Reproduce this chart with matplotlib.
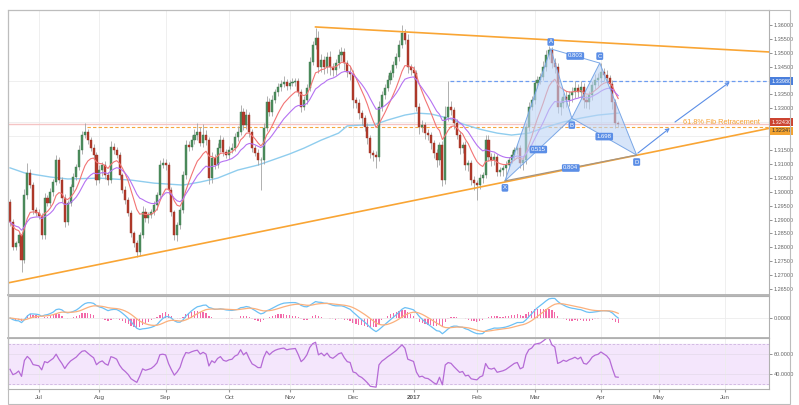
import numpy as np
import pandas as pd
import matplotlib
matplotlib.use('Agg')
import matplotlib.pyplot as plt
from matplotlib.patches import Polygon, Rectangle

plt.rcParams['font.family'] = ['Liberation Sans', 'DejaVu Sans']

# daily USD/CAD closes, 17 Jun 2016 .. 11 Apr 2017 (one per trading day)
first_open = 1.2963
closes = [
    1.2891, 1.2801, 1.2816, 1.2844, 1.2754, 1.2988, 1.3068, 1.3024, 1.2934, 1.2924,
    1.2913, 1.2844, 1.2978, 1.2960, 1.2999, 1.3035, 1.3114, 1.3042, 1.2978, 1.2891,
    1.2960, 1.3017, 1.3053, 1.3089, 1.3150, 1.3204, 1.3215, 1.3186, 1.3157, 1.3132,
    1.3042, 1.3078, 1.3096, 1.3060, 1.3042, 1.3161, 1.3150, 1.3132, 1.3060, 1.3006,
    1.2970, 1.2924, 1.2852, 1.2816, 1.2783, 1.2844, 1.2927, 1.2906, 1.2916, 1.2927,
    1.2952, 1.2988, 1.3096, 1.3103, 1.3096, 1.3006, 1.2927, 1.2844, 1.2880, 1.2934,
    1.3060, 1.3168, 1.3161, 1.3186, 1.3204, 1.3215, 1.3175, 1.3204, 1.3186, 1.3049,
    1.3121, 1.3096, 1.3157, 1.3186, 1.3143, 1.3132, 1.3150, 1.3157, 1.3197, 1.3215,
    1.3287, 1.3240, 1.3276, 1.3215, 1.3157, 1.3139, 1.3114, 1.3114, 1.3229, 1.3323,
    1.3287, 1.3330, 1.3359, 1.3377, 1.3388, 1.3395, 1.3381, 1.3391, 1.3395, 1.3399,
    1.3359, 1.3305, 1.3330, 1.3373, 1.3467, 1.3528, 1.3553, 1.3449, 1.3474, 1.3449,
    1.3485, 1.3449, 1.3438, 1.3463, 1.3492, 1.3503, 1.3463, 1.3431, 1.3424, 1.3330,
    1.3319, 1.3283, 1.3265, 1.3233, 1.3193, 1.3139, 1.3132, 1.3125, 1.3305, 1.3348,
    1.3373, 1.3402, 1.3427, 1.3456, 1.3485, 1.3528, 1.3571, 1.3546, 1.3449, 1.3438,
    1.3427, 1.3305, 1.3233, 1.3240, 1.3211, 1.3204, 1.3175, 1.3139, 1.3114, 1.3168,
    1.3042, 1.3269, 1.3305, 1.3294, 1.3247, 1.3204, 1.3157, 1.3168, 1.3096, 1.3103,
    1.3042, 1.3031, 1.3024, 1.3049, 1.3060, 1.3186, 1.3125, 1.3114, 1.3125, 1.3071,
    1.3078, 1.3085, 1.3096, 1.3114, 1.3132, 1.3150, 1.3157, 1.3103, 1.3114, 1.3233,
    1.3305, 1.3330, 1.3391, 1.3402, 1.3413, 1.3449, 1.3492, 1.3510, 1.3463, 1.3449,
    1.3305, 1.3319, 1.3341, 1.3330, 1.3348, 1.3359, 1.3373, 1.3359, 1.3377, 1.3330,
    1.3323, 1.3348, 1.3384, 1.3402, 1.3409, 1.3431, 1.3420, 1.3409, 1.3388, 1.3323,
    1.3247, 1.3243,
]
# wick lengths in pips above / below the candle body
upper_wick = [
    12, 10, 8, 14, 10, 22, 35, 15, 12, 10,
    14, 10, 18, 12, 15, 10, 20, 12, 10, 14,
    10, 12, 15, 10, 18, 14, 32, 12, 10, 16,
    12, 18, 10, 14, 12, 20, 15, 10, 12, 8,
    14, 10, 12, 8, 10, 12, 20, 14, 10, 12,
    15, 12, 20, 18, 14, 12, 10, 8, 12, 10,
    15, 18, 14, 20, 22, 32, 18, 40, 20, 12,
    22, 14, 18, 20, 12, 10, 14, 18, 15, 20,
    25, 14, 22, 10, 12, 10, 14, 12, 18, 20,
    14, 18, 12, 15, 14, 20, 10, 12, 14, 10,
    12, 10, 16, 14, 18, 15, 37, 25, 20, 14,
    18, 20, 16, 14, 22, 18, 14, 12, 20, 14,
    12, 14, 10, 12, 14, 10, 12, 14, 20, 16,
    14, 18, 12, 16, 14, 18, 29, 14, 20, 12,
    15, 12, 14, 18, 10, 14, 12, 10, 14, 12,
    14, 40, 93, 20, 12, 14, 16, 12, 14, 12,
    10, 14, 12, 16, 12, 20, 18, 14, 16, 12,
    12, 10, 14, 12, 16, 12, 14, 12, 10, 14,
    18, 14, 12, 16, 14, 20, 18, 14, 12, 20,
    14, 18, 16, 20, 14, 18, 24, 16, 20, 14,
    18, 16, 14, 20, 18, 32, 14, 18, 12, 14,
    12, 8,
]
lower_wick = [
    14, 12, 10, 12, 43, 10, 14, 12, 15, 10,
    12, 15, 14, 10, 12, 14, 10, 12, 15, 18,
    12, 10, 14, 12, 10, 14, 12, 15, 12, 14,
    18, 12, 20, 14, 16, 12, 14, 10, 15, 12,
    14, 12, 16, 14, 18, 14, 12, 16, 20, 12,
    12, 16, 14, 12, 18, 14, 16, 18, 22, 14,
    10, 14, 16, 12, 14, 18, 12, 14, 16, 20,
    18, 14, 12, 14, 16, 12, 14, 10, 12, 14,
    12, 16, 14, 18, 14, 12, 16, 108, 14, 12,
    16, 14, 12, 14, 16, 12, 14, 12, 10, 14,
    14, 18, 12, 16, 10, 12, 14, 20, 18, 24,
    20, 28, 22, 18, 16, 20, 24, 18, 22, 30,
    18, 20, 24, 16, 20, 18, 22, 40, 14, 16,
    14, 12, 16, 14, 12, 16, 10, 14, 22, 18,
    20, 16, 24, 18, 22, 16, 20, 18, 24, 16,
    22, 14, 16, 18, 20, 14, 22, 18, 16, 20,
    18, 24, 54, 14, 18, 12, 16, 22, 18, 14,
    16, 20, 46, 14, 12, 16, 14, 18, 24, 14,
    16, 12, 14, 18, 14, 12, 16, 14, 18, 20,
    22, 30, 18, 24, 20, 26, 22, 18, 24, 28,
    22, 26, 18, 14, 20, 16, 22, 18, 20, 24,
    18, 10,
]

# long moving average (needs history before the window)
slow_ma_bar = [0, 5, 14, 20, 31, 42, 50, 60, 66, 72, 79, 86, 91, 97, 102, 108,
               114, 117, 122, 126, 131, 137, 141, 146, 152, 157, 163, 169, 174,
               180, 186, 192, 198, 204, 211]
slow_ma = [1.3086, 1.3068, 1.3053, 1.3046, 1.3049, 1.3042, 1.3031, 1.3024, 1.3035,
           1.3049, 1.3078, 1.3096, 1.3114, 1.3136, 1.3157, 1.3186, 1.3211, 1.3237,
           1.3240, 1.3240, 1.3258, 1.3276, 1.3283, 1.3280, 1.3265, 1.3244, 1.3225,
           1.3211, 1.3204, 1.3211, 1.3233, 1.3251, 1.3265, 1.3276, 1.3283]

# drawing objects
upper_trend_bar = [106, 263.3]
upper_trend_px = [1.3593, 1.3503]
lower_trend_bar = [-0.7, 263.3]
lower_trend_px = [1.2672, 1.3228]
pattern_names = ['X', 'A', 'B', 'C', 'D']
pattern_bar = [171.7, 187.6, 194.9, 204.6, 217.4]
pattern_px = [1.3039, 1.3514, 1.3265, 1.3463, 1.3132]
ratio_labels = ['0.515', '0.803', '1.698', '0.804']
arrow_bar = [(217.8, 228.9), (230.7, 249.7)]
arrow_px = [(1.3139, 1.3229), (1.3251, 1.3395)]
last_price = 1.32430
fib_level = 1.32347
fib_start_bar = 26.7
high_level = 1.33980
high_start_bar = 152.6

price_ticks = [1.265, 1.270, 1.275, 1.280, 1.285, 1.290, 1.295, 1.300, 1.305,
               1.310, 1.315, 1.330, 1.335, 1.345, 1.350, 1.355, 1.360]
month_labels = ['Jul', 'Aug', 'Sep', 'Oct', 'Nov', 'Dec', '2017',
                'Feb', 'Mar', 'Apr', 'May', 'Jun']

# ---------------------------------------------------------------------------
dates = pd.bdate_range('2016-06-17', '2017-06-30')
dates = dates[dates != pd.Timestamp('2016-12-26')]
per = dates.to_period('M')
month_idx = np.flatnonzero(per[1:] != per[:-1]) + 1

c = np.array(closes)
o = np.r_[first_open, c[:-1]]
h = np.maximum(o, c) + np.array(upper_wick) / 1e4
l = np.minimum(o, c) - np.array(lower_wick) / 1e4
x = np.arange(len(c))
up = c >= o

s = pd.Series(c)
ema_fast = s.ewm(span=10, adjust=False).mean()
ema_mid = s.ewm(span=20, adjust=False).mean()
macd = s.ewm(span=12, adjust=False).mean() - s.ewm(span=26, adjust=False).mean()
signal = macd.ewm(span=9, adjust=False).mean()
hist = macd - signal

delta = np.diff(c, prepend=first_open)
ag, al = 0.0025, 0.0025
rsi = []
for d in delta:
    ag = (ag * 13 + max(d, 0)) / 14
    al = (al * 13 + max(-d, 0)) / 14
    rsi.append(100 - 100 / (1 + ag / al))

XL = (-0.7, 263.3)
GREEN, RED = '#4e8d5e', '#b23b2b'
GRID = '#ececec'
SPINE = '#b0b0b0'

fig = plt.figure(figsize=(7.99, 4.05), dpi=100)
ax = fig.add_axes([0.0100, 0.2716, 0.9524, 0.7037])
axm = fig.add_axes([0.0100, 0.1654, 0.9524, 0.1037], sharex=ax)
axr = fig.add_axes([0.0100, 0.0395, 0.9524, 0.1259], sharex=ax)

# histogram sits on its own scale behind the MACD lines
axh = axm.twinx()
axh.axis('off')
axm.set_zorder(axh.get_zorder() + 1)
axm.patch.set_visible(False)

for a in (ax, axm, axr):
    a.set_xlim(*XL)
    a.yaxis.tick_right()
    a.yaxis.set_label_position('right')
    a.tick_params(axis='y', labelsize=4, colors='#666666', length=2, pad=1.5,
                  width=0.5, left=False, labelleft=False, right=True, labelright=True)
    a.tick_params(axis='x', length=0, labelbottom=False)
    for sp in a.spines.values():
        sp.set_color(SPINE)
        sp.set_linewidth(0.8)
    a.set_xticks(month_idx)
    a.grid(axis='x', color=GRID, lw=0.6)
    a.set_axisbelow(True)
ax.spines['bottom'].set_linewidth(1.3)
axm.spines['bottom'].set_linewidth(1.3)

# ---- price panel
ax.set_ylim(1.26285, 1.3654)
ax.set_yticks(np.arange(1.265, 1.3601, 0.005), minor=True)
ax.grid(axis='y', which='minor', color=GRID, lw=0.6)
ax.tick_params(axis='y', which='minor', length=0)
ax.set_yticks(price_ticks)
ax.yaxis.set_major_formatter(matplotlib.ticker.FormatStrFormatter('%.5f'))

ax.axhline(last_price, color='#f5c4c4', lw=1.0, zorder=1)
ax.plot([fib_start_bar, XL[1]], [fib_level] * 2, color='#f6a53c', lw=0.8,
        ls=(0, (3, 2)), zorder=1)
ax.plot([high_start_bar, XL[1]], [high_level] * 2, color='#6d9cf0', lw=0.9,
        ls=(0, (3, 2)), zorder=1)

ax.plot(slow_ma_bar, slow_ma, color='#8fcdee', lw=1.0, zorder=2)

ax.vlines(x, l, h, color='#a3a3a3', lw=0.6, zorder=3)
body = np.maximum(np.abs(c - o), 0.00018)
ax.bar(x[up], body[up], bottom=np.minimum(o, c)[up], width=0.72, color=GREEN,
       edgecolor='#3e7a4e', lw=0.3, zorder=4)
ax.bar(x[~up], body[~up], bottom=np.minimum(o, c)[~up], width=0.72, color=RED,
       edgecolor='#9a3022', lw=0.3, zorder=4)

ax.plot(x, ema_fast, color='#f27474', lw=0.8, zorder=5)
ax.plot(x, ema_mid, color='#b572f2', lw=0.8, zorder=5)

ax.plot(upper_trend_bar, upper_trend_px, color='#f9a534', lw=1.2, zorder=6)
ax.plot(lower_trend_bar, lower_trend_px, color='#f9a534', lw=1.2, zorder=6)

# harmonic pattern
P = list(zip(pattern_bar, pattern_px))
pc = dict(fc=(0.74, 0.83, 0.96, 0.6), ec='#7aa7e6', lw=0.7, zorder=7)
ax.add_patch(Polygon([P[0], P[1], P[2]], closed=True, **pc))
ax.add_patch(Polygon([P[2], P[3], P[4]], closed=True, **pc))
ax.plot([P[1][0], P[3][0]], [P[1][1], P[3][1]], color='#7aa7e6', lw=0.7, zorder=7)
ax.plot([P[0][0], P[4][0]], [P[0][1], P[4][1]], color='#a8957f', lw=0.9, zorder=7)

box = dict(boxstyle='round,pad=0.22', fc='#5b8ee6', ec='none')
for (i, j), lab in zip([(0, 2), (1, 3), (2, 4), (0, 4)], ratio_labels):
    ax.text((P[i][0] + P[j][0]) / 2, (P[i][1] + P[j][1]) / 2, lab, fontsize=4.3,
            color='white', ha='center', va='center', bbox=box, zorder=9)
for name, (bx, py), dy in zip(pattern_names, P, [-5, 5, -5, 5, -5]):
    ax.annotate(name, (bx, py), xytext=(0, dy), textcoords='offset points',
                fontsize=4.3, color='white', ha='center', va='center', bbox=box,
                zorder=9)

for (x0, x1), (y0, y1) in zip(arrow_bar, arrow_px):
    ax.annotate('', xy=(x1, y1), xytext=(x0, y0), zorder=8,
                arrowprops=dict(arrowstyle='->', color='#5b8ee6', lw=0.8,
                                mutation_scale=6, shrinkA=0, shrinkB=0))

ax.text(233.4, fib_level + 0.0002, '61.8% Fib Retracement', fontsize=5.3,
        color='#f5a033', ha='left', va='bottom', zorder=8)

tr = ax.get_yaxis_transform()
for val, fc, tc, dy in [(high_level, '#4a7fdc', 'white', 0),
                        (last_price, '#cc4431', 'white', 1.5),
                        (fib_level, '#f3a331', '#333333', -3)]:
    ax.annotate('%.5f' % val, (1.003, val), xycoords=tr, xytext=(0, dy),
                textcoords='offset points', fontsize=4, color=tc, ha='left',
                va='center', annotation_clip=False,
                bbox=dict(boxstyle='square,pad=0.25', fc=fc, ec='none'))

# ---- MACD panel
m = np.abs(macd).max()
axm.set_ylim(-m * 1.02, m * 1.12)
k = np.abs(hist).max() * 2.0
axh.set_ylim(-k * 1.02, k * 1.12)
axh.bar(x, hist, width=0.45, color='#f26aa9', zorder=2)
axm.plot(x, macd, color='#6cc0f5', lw=0.9, zorder=3)
axm.plot(x, signal, color='#fbb07c', lw=0.9, zorder=3)
axm.set_yticks([0])
axm.yaxis.set_major_formatter(matplotlib.ticker.FormatStrFormatter('%.4f'))
axm.grid(axis='y', color=GRID, lw=0.6)

# ---- RSI panel
axr.axhspan(30, 70, color='#f4e6fc', zorder=0)
for lv in (30, 70):
    axr.axhline(lv, color='#cdb4df', lw=0.6, ls=(0, (3, 2)))
axr.plot(x, rsi, color='#b56ad6', lw=0.9, zorder=3)
axr.set_ylim(25.5, 76)
axr.set_yticks([40, 60])
axr.yaxis.set_major_formatter(matplotlib.ticker.FormatStrFormatter('%.4f'))
axr.grid(axis='y', color='#e6dced', lw=0.6)

axr.tick_params(axis='x', labelbottom=True, length=2, color='#999999',
                labelsize=4.5, labelcolor='#555555', pad=2)
axr.set_xticks(month_idx)
axr.set_xticklabels(month_labels)
for t in axr.get_xticklabels():
    if t.get_text() == '2017':
        t.set_fontweight('bold')

fig.patches.append(Rectangle((0.0100, 0.0025), 0.9787, 0.9728, transform=fig.transFigure,
                             fill=False, ec='#bdbdbd', lw=0.8))

fig.savefig('out.png', dpi=100)
